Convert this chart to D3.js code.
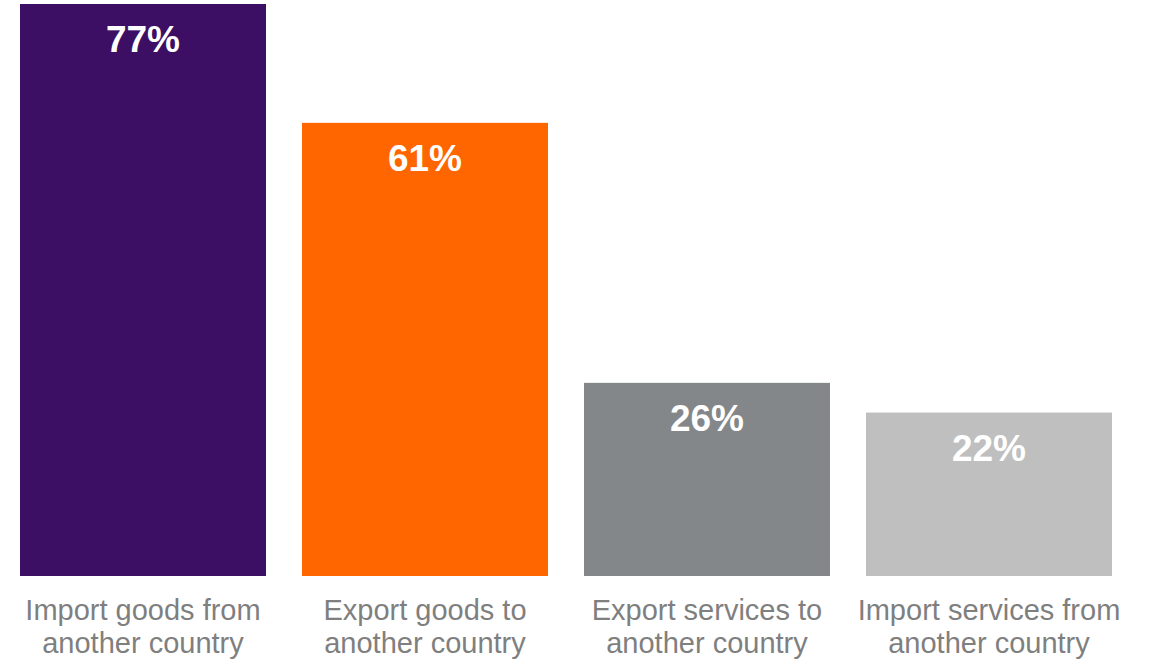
<!DOCTYPE html>
<html>
<head>
<meta charset="utf-8">
<script src="https://cdn.jsdelivr.net/npm/d3@7"></script>
<style>
  html, body { margin: 0; padding: 0; background: #ffffff; }
  svg { display: block; }
</style>
</head>
<body>
<svg id="chart" width="1153" height="662"></svg>
<script>
// Share of businesses by trade activity
const categories = [
  ["Import goods from", "another country"],
  ["Export goods to", "another country"],
  ["Export services to", "another country"],
  ["Import services from", "another country"]
];
const values = [77, 61, 26, 22];
const colors = ["#3c0f64", "#ff6600", "#848789", "#bfbfbf"];

const svg = d3.select("#chart");
const baseline = 576;

const x = d3.scaleBand()
  .domain(d3.range(values.length))
  .range([2, 1130])
  .paddingInner(36 / 282)
  .paddingOuter(18 / 282);

const y = d3.scaleLinear()
  .domain([0, 77])
  .range([baseline, 4]);

const font = "'Liberation Sans', Arial, Helvetica, sans-serif";

const g = svg.selectAll("g.bar")
  .data(values)
  .enter().append("g")
  .attr("class", "bar");

g.append("rect")
  .attr("x", (d, i) => x(i))
  .attr("y", d => y(d))
  .attr("width", x.bandwidth())
  .attr("height", d => baseline - y(d))
  .attr("fill", (d, i) => colors[i]);

g.append("text")
  .attr("x", (d, i) => x(i) + x.bandwidth() / 2)
  .attr("y", d => y(d) + 48)
  .attr("text-anchor", "middle")
  .attr("fill", "#ffffff")
  .attr("font-family", font)
  .attr("font-weight", "bold")
  .attr("font-size", 37)
  .text(d => d + "%");

// Category labels under each bar, two lines each
const labels = svg.selectAll("text.cat")
  .data(categories)
  .enter().append("text")
  .attr("class", "cat")
  .attr("text-anchor", "middle")
  .attr("fill", "#7f7f7f")
  .attr("font-family", font)
  .attr("font-size", 29);

labels.selectAll("tspan")
  .data((d, i) => d.map(line => ({ line, i })))
  .enter().append("tspan")
  .attr("x", d => x(d.i) + x.bandwidth() / 2)
  .attr("y", (d, j) => 619.5 + j * 33.5)
  .text(d => d.line);
</script>
</body>
</html>
